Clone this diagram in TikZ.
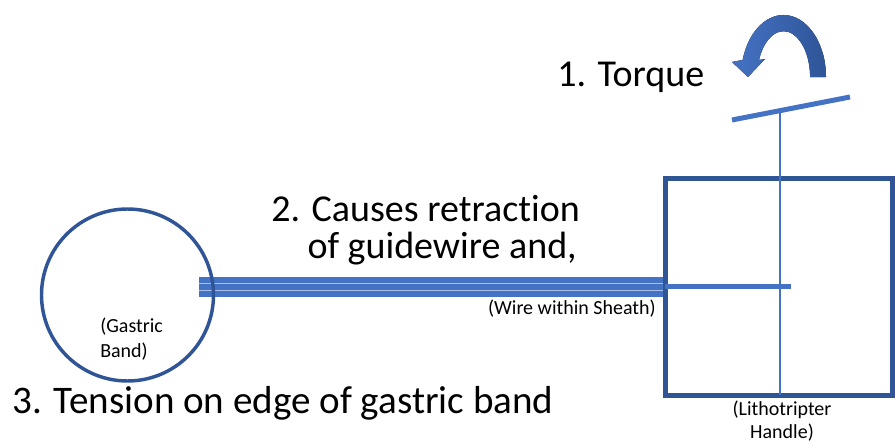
\documentclass[tikz,border=0pt]{standalone}
\usepackage{fontspec}
\setmainfont[Ligatures=NoCommon]{Carlito}
\usepackage{tikz}
\usetikzlibrary{arrows}

\definecolor{darkblue}{HTML}{2F5597}
\definecolor{wireblue}{HTML}{4472C4}
\definecolor{lightblue}{HTML}{A9C1E8}

\begin{document}
\begin{tikzpicture}[x=0.75pt,y=0.75pt,yscale=-1,xscale=1,
  bigtext/.style={font=\fontsize{28.5}{34}\selectfont, inner sep=0pt},
  smalltext/.style={font=\fontsize{15}{18}\selectfont, inner sep=0pt},
  thickblue/.style={wireblue, line width=3.75}]
\useasboundingbox (0,0) rectangle (895,441);

\coordinate (sheathL) at (199,287);
\coordinate (handleW) at (665,287);
\coordinate (wireEnd) at (791,287);
\coordinate (barL) at (732,120);
\coordinate (barR) at (850,97);
\coordinate (shaftTop) at (780,110.5);
\coordinate (shaftBot) at (780,395);

%Shape: Torque Arrow
\fill[left color=wireblue, right color=darkblue] (826,77) arc[start angle=0, end angle=-164, x radius=42.5, y radius=62] -- (732,62) -- (748,77) -- (765,59) -- (759,60) arc[start angle=-158, end angle=0, x radius=26.5, y radius=46] -- cycle;

%Straight Lines: tilted bar and shaft
\draw[thickblue] (barL) -- (barR);

%Shape: Sheath
\fill[wireblue] (199,277) rectangle (665,297);
\draw[lightblue, line width=1] (199,283.5) -- (665,283.5);
\draw[lightblue, line width=1] (199,290.5) -- (665,290.5);

%Shape: Circle
\draw[darkblue, line width=2.6] (127.5,295) circle (86);

%Shape: Square
\draw[darkblue, line width=3.75] (665,179) rectangle (892,395);

%Straight Lines: wire
\draw[thickblue] (handleW) -- (wireEnd);
\draw[wireblue, line width=1.1] (shaftTop) -- (shaftBot);

% Text Node
\node[bigtext, anchor=base west] (torque) at (557,87) {1. Torque};
% Text Node
\node[bigtext, anchor=base east] (retract1) at (580,222) {2. Causes retraction};
% Text Node
\node[bigtext, anchor=base east] (retract2) at (577,259) {of guidewire and,};
% Text Node
\node[smalltext, anchor=base east] (sheathtext) at (656,315) {(Wire within Sheath)};
% Text Node
\node[smalltext, anchor=base west] (band1) at (100,333) {(Gastric};
\node[smalltext, anchor=base west] (band2) at (100,357) {Band)};
% Text Node
\node[smalltext, anchor=base] (handle1) at (782,415) {(Lithotripter};
\node[smalltext, anchor=base] (handle2) at (782,438) {Handle)};
% Text Node
\node[bigtext, font=\fontsize{29.3}{34}\selectfont, anchor=base west] (tension) at (12,413) {3. Tension on edge of gastric band};

\end{tikzpicture}
\end{document}
